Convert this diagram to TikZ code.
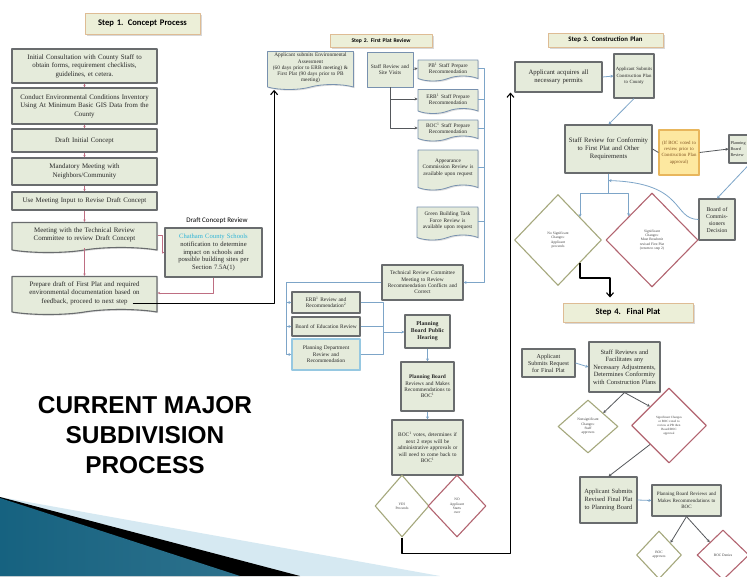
\documentclass[tikz,border=0pt]{standalone}
\usepackage{fontspec}
\setmainfont{Liberation Serif}
\newfontfamily\headfont{Carlito}
\newfontfamily\bigfont{Liberation Sans}
\usetikzlibrary{arrows.meta,calc,shapes.geometric,shapes.symbols,shadows}
\usetikzlibrary{positioning}

\definecolor{boxfill}{RGB}{229,235,219}
\definecolor{boxline}{RGB}{105,108,110}
\definecolor{sline}{RGB}{120,145,175}
\definecolor{titlefill}{RGB}{236,239,216}
\definecolor{titleline}{RGB}{222,188,148}
\definecolor{pinkarrow}{RGB}{190,110,130}
\definecolor{flowgray}{RGB}{85,88,92}
\definecolor{flowblue}{RGB}{125,165,200}
\definecolor{okline}{RGB}{165,168,125}
\definecolor{noline}{RGB}{178,100,112}
\definecolor{notefill}{RGB}{253,232,160}
\definecolor{noteline}{RGB}{232,182,92}
\definecolor{notetext}{RGB}{130,85,35}
\definecolor{schoolcyan}{RGB}{45,180,215}
\definecolor{paleblue}{RGB}{214,233,242}
\definecolor{tealdark}{RGB}{22,98,128}
\definecolor{teallight}{RGB}{92,182,218}
\definecolor{pdline}{RGB}{150,200,225}

\newcommand\fsa{\fontsize{6.9}{8.4}\selectfont}
\newcommand\fsb{\fontsize{5.4}{6.4}\selectfont}
\newcommand\fsc{\fontsize{6.7}{8}\selectfont}
\newcommand\fsd{\fontsize{6.4}{7.6}\selectfont}
\newcommand\fst{\fontsize{3.6}{4.3}\selectfont}

\tikzset{
  sz/.style 2 args={minimum width=#1pt,minimum height=#2pt,text width=#1pt-3pt},
  dsz/.style 2 args={minimum width=#1pt,minimum height=#2pt},
  box/.style={draw=boxline,fill=boxfill,line width=1.1pt,align=center,inner sep=1pt,text=black!85,
    drop shadow={shadow xshift=1.2pt,shadow yshift=-1.2pt,opacity=0.25}},
  sbox/.style={box,draw=sline,line width=0.8pt},
  docbox/.style={box,shape=tape,tape bend top=none,tape bend height=5pt},
  sdocbox/.style={docbox,draw=sline,line width=0.8pt},
  titlebox/.style={draw=titleline,fill=titlefill,line width=1pt,align=center,inner sep=1pt,
    drop shadow={shadow xshift=1.5pt,shadow yshift=-1.5pt,opacity=0.3}},
  dia/.style={diamond,fill=white,line width=1.1pt,inner sep=0pt,align=center,font=\fst,text=black!75},
  okdia/.style={dia,draw=okline},
  nodia/.style={dia,draw=noline},
  pinkflow/.style={-{Stealth[length=2.5pt,width=2.5pt]},draw=pinkarrow,line width=0.7pt},
  grayflow/.style={-{Stealth[length=3pt,width=3pt]},draw=flowgray,line width=0.8pt},
  grayline/.style={draw=flowgray,line width=0.8pt},
  blueflow/.style={-{Stealth[length=3pt,width=3pt]},draw=flowblue,line width=0.8pt},
  blueline/.style={draw=flowblue,line width=0.8pt},
  mainflow/.style={-{Straight Barb[length=4pt,width=7pt]},line width=1.1pt,black}
}

\begin{document}
\begin{tikzpicture}[x=1pt,y=-1pt,>=Stealth,line join=round]
\useasboundingbox (0,0) rectangle (747,576);
\clip (0,0) rectangle (747,576);
\fill[white] (0,0) rectangle (747,576);

% --- corner wedge
\fill[paleblue] (0,497) -- (440,576) -- (0,576) -- cycle;
\fill[black] (0,497) -- (300,576) -- (0,576) -- cycle;
\shade[left color=tealdark,middle color=teallight,right color=tealdark!90] (0,498) -- (240,576) -- (0,576) -- cycle;

% --- step 1: concept process
\node[titlebox,sz={115}{21},font=\headfont\bfseries\fontsize{8.6}{10}\selectfont] (t1) at (142.5,23.5) {Step 1. Concept Process};
\node[box,sz={145}{34},font=\fsa] (s1a) at (84.5,66) {Initial Consultation with County Staff to\\obtain forms, requirement checklists,\\guidelines, et cetera.};
\node[box,sz={145}{36},font=\fsa] (s1b) at (84.5,106) {Conduct Environmental Conditions Inventory\\Using At Minimum Basic GIS Data from the\\County};
\node[box,sz={145}{23},font=\fsa] (s1c) at (84.5,140.5) {Draft Initial Concept};
\node[box,sz={145}{27},font=\fsa] (s1d) at (84.5,171.5) {Mandatory Meeting with\\Neighbors/Community};
\node[box,sz={145}{18},font=\fsa] (s1e) at (84.5,201) {Use Meeting Input to Revise Draft Concept};
\node[docbox,sz={145}{30},font=\fsa] (s1f) at (84.5,235) {Meeting with the Technical Review\\Committee to review Draft Concept};
\node[docbox,sz={145}{38},font=\fsa] (s1g) at (84.5,293) {Prepare draft of First Plat and required\\environmental documentation based on\\feedback, proceed to next step};
\node[font=\headfont\fontsize{7}{8}\selectfont] (dcr) at (217,221) {Draft Concept Review};
\node[box,sz={97}{49},font=\fontsize{6.6}{7.8}\selectfont] (sch) at (213.5,252.5) {{\color{schoolcyan}Chatham County Schools}\\notification to determine\\impact on schools and\\possible building sites per\\Section 7.5A(1)};
\foreach \a/\b in {s1a/s1b,s1b/s1c,s1c/s1d,s1d/s1e,s1e/s1f,s1f/s1g}
  \draw[pinkflow] (\a.south) -- (\b.north);
\draw[pinkflow] (s1f.east) -- ++(5,0) |- (sch.west);
\draw[pinkflow] (sch.south) |- (s1g.east);

% --- step 2: first plat review
\node[titlebox,sz={102}{13},font=\headfont\bfseries\fontsize{5.6}{6}\selectfont] (t2) at (381,41) {Step 2. First Plat Review};
\node[sdocbox,sz={86}{38},font=\fontsize{5.3}{6.2}\selectfont] (a2) at (310.5,68) {Applicant submits Environmental\\Assessment\\(60 days prior to ERB meeting) \&\\First Plat (90 days prior to PB\\meeting)};
\node[sbox,sz={46}{35},font=\fsb] (sr2) at (390,69.5) {Staff Review and\\Site Visits};
\node[sdocbox,sz={60}{21},font=\fsb] (pb2) at (448,68) {PB\textsuperscript{1} Staff Prepare\\Recommendation};
\node[sdocbox,sz={60}{24},font=\fsb] (erb2) at (448,99) {ERB\textsuperscript{1} Staff Prepare\\Recommendation};
\node[sdocbox,sz={60}{21},font=\fsb] (boc2) at (448,128) {BOC\textsuperscript{1} Staff Prepare\\Recommendation};
\node[sdocbox,sz={60}{40},font=\fsb] (app2) at (448,167.5) {Appearance\\Commission Review is\\available upon request};
\node[sdocbox,sz={61}{33},font=\fsb] (gb2) at (447.5,221) {Green Building Task\\Force Review is\\available upon request};
\coordinate (cx) at (484,0);
\draw[grayflow] (sr2.east) -- (pb2.west);
\draw[grayflow] (sr2.south) |- (boc2.west);
\draw[grayflow] (sr2.south |- erb2.west) -- (erb2.west);
\node[box,sz={81}{35},font=\fsb] (trc) at (422.5,282.5) {Technical Review Committee\\Meeting to Review\\Recommendation Conflicts and\\Correct};
\draw[blueflow] (pb2.east) -- (pb2.east -| cx) |- (trc.east);
\foreach \n in {erb2,boc2,app2,gb2}
  \draw[blueline] (\n.east) -- (\n.east -| cx);
\node[box,sz={68}{21},font=\fsb] (erbr) at (326,302.5) {ERB\textsuperscript{1} Review and\\Recommendation\textsuperscript{2}};
\node[box,sz={68}{19},font=\fsb] (boe) at (326,326.5) {Board of Education Review};
\node[box,draw=pdline,sz={68}{31},font=\fsb] (pd) at (326,354.5) {Planning Department\\Review and\\Recommendation};
\node[box,sz={45}{33},font=\fontsize{5.8}{7}\selectfont\bfseries] (pbh) at (427.5,331.5) {Planning\\Board Public\\Hearing};
\node[box,sz={53}{49},font=\fsb] (pbr) at (427.5,386.5) {\textbf{Planning Board}\\Reviews and Makes\\Recommendations to\\BOC\textsuperscript{1}};
\node[box,sz={71}{55},font=\fsb] (bv) at (427.5,447.5) {BOC\textsuperscript{1} votes, determines if\\next 2 steps will be\\administrative approvals or\\will need to come back to\\BOC\textsuperscript{1}};
\node[okdia,dsz={54}{62}] (yes) at (402,506) {YES\\Proceeds};
\node[nodia,dsz={58}{62}] (no) at (457,506) {NO\\Applicant\\Starts\\over};
\coordinate (lx) at (286,0);
\coordinate (jn) at (383,332);
\draw[blueflow] (trc.west) -- (trc.west -| lx) |- (pd.west);
\foreach \n in {erbr,boe}
  \draw[blueflow] (\n.west -| lx) -- (\n.west);
\draw[blueline] (erbr.east) -| (jn);
\draw[blueline] (pd.east) -| (jn);
\draw[blueline] (boe.east) -- (boe.east -| jn);
\draw[blueflow] (jn) -- (jn -| pbh.west);
\draw[blueflow] (pbh.south) -- (pbr.north);
\draw[blueflow] (pbr.south) -- (bv.north);

% --- step 3: construction plan
\node[titlebox,sz={115}{14},font=\headfont\bfseries\fontsize{6.8}{8}\selectfont] (t3) at (605.5,40) {Step 3. Construction Plan};
\node[box,sz={87}{30},font=\fsc] (perm) at (558.5,77) {Applicant acquires all\\necessary permits};
\node[box,sz={40}{44},font=\fontsize{4.8}{6.2}\selectfont] (sub3) at (634,76) {Applicant Submits\\Construction Plan\\to County};
\node[box,sz={87}{48},font=\fsc] (sr3) at (608.5,149) {Staff Review for Conformity\\to First Plat and Other\\Requirements};
\node[box,draw=noteline,fill=notefill,text=notetext,sz={40}{45},font=\fontsize{4.8}{6.4}\selectfont] (ifboc) at (679,152.5) {(If BOC voted to\\review prior to\\Construction Plan\\approval)};
\node[box,sz={42}{28},align=left,font=\fontsize{4.3}{6}\selectfont] (pbr3) at (750,149) {Planning\\Board\\Review};
\node[box,sz={36}{41},font=\fontsize{5.8}{7}\selectfont] (boc3) at (717,219.5) {Board of\\Commis-\\sioners\\Decision};
\node[okdia,dsz={87}{91}] (nsd) at (558,240) {No Significant\\Changes:\\Applicant\\proceeds};
\node[nodia,dsz={92}{94}] (sd) at (652,240) {Significant\\Changes:\\Must Resubmit\\revised First Plat\\(return to step 2)};
\draw[blueflow] (perm.east) -- (sub3.west);
\draw[blueflow] (sub3.south) -- (sr3.north);
\draw[grayline] (sr3.east) -- (ifboc.west);
\draw[grayflow] (ifboc.east) -- (pbr3.west);
\draw[blueflow] (pbr3.south) -- (boc3.north);
\draw[blueflow] (boc3.west) .. controls (672,219) and (686,183) .. ([yshift=-7pt]sr3.south);
\draw[blueline] (sr3.south) -- ++(0,20) coordinate (b3);
\draw[blueflow] (b3) -| (nsd.north east);
\draw[blueflow] (b3) -| (sd.north west);

% --- step 4: final plat
\node[titlebox,sz={130}{19},font=\headfont\bfseries\fontsize{8.6}{10}\selectfont] (t4) at (628,312.5) {Step 4.\ \ Final Plat};
\node[box,sz={53}{28},font=\fontsize{6}{7}\selectfont] (req4) at (548.5,363) {Applicant\\Submits Request\\for Final Plat};
\node[box,sz={71}{50},font=\fsd] (sr4) at (624.5,367) {Staff Reviews and\\Facilitates any\\Necessary Adjustments,\\Determines Conformity\\with Construction Plans};
\node[okdia,dsz={60}{53}] (d4a) at (588,426.5) {Nonsignificant\\Changes:\\Staff\\approves};
\node[nodia,dsz={75}{75},font=\fontsize{3.2}{4}\selectfont] (d4b) at (669,425.5) {Significant Changes\\or BOC voted to\\review at PB then\\Board/BOC\\approval};
\node[box,sz={57}{46},font=\fontsize{6.4}{7.6}\selectfont] (rev4) at (608.5,500) {Applicant Submits\\Revised Final Plat\\to Planning Board};
\node[box,sz={69}{31},font=\fontsize{5}{6.6}\selectfont] (pb4) at (686.5,500.5) {Planning Board Reviews and\\Makes Recommendations to\\BOC};
\node[okdia,dsz={45}{48}] (d4c) at (659,555) {BOC\\approves};
\node[nodia,dsz={52}{50}] (d4d) at (723,555) {BOC Denies};
\draw[blueflow] (req4.east) -- (sr4.west);
\draw[grayflow] (sr4.south) -- (d4a.north east);
\draw[grayflow] (sr4.south) -- (d4b.north west);
\draw[grayflow] (d4b.south west) -- (rev4.north);
\draw[blueflow] (rev4.east) -- (pb4.west);
\draw[grayflow] (pb4.south) -- (d4c.north east);
\draw[grayflow] (pb4.south) -- (d4d.north west);

% --- links between the steps
\coordinate (k3) at (610,278);
\draw[mainflow] ([shift={(-25,-7)}]s1g.south east) -| ([xshift=7pt,yshift=-5pt]a2.south west);
\draw[mainflow] (yes.south) -- ++(0,16) -| ([xshift=-4pt]perm.south west);
\draw[mainflow,shorten >=5pt] (nsd.south east) |- (k3) -- (k3 |- t4.north);

% --- slide title
\node[font=\bigfont\bfseries\fontsize{24.4}{30}\selectfont,align=center] (ttl) at (145,435) {CURRENT MAJOR\\SUBDIVISION\\PROCESS};
\end{tikzpicture}
\end{document}
